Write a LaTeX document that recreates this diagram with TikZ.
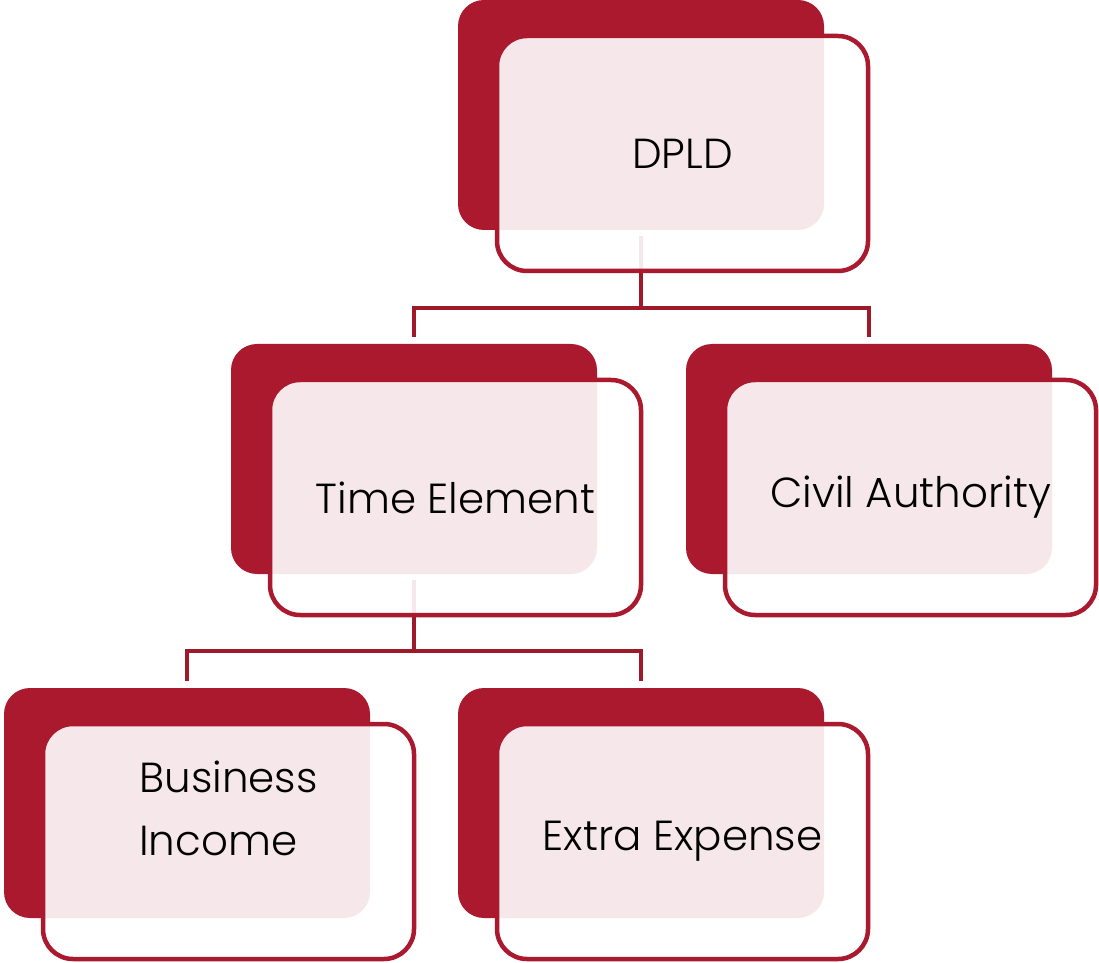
\documentclass[tikz,border=0pt]{standalone}
\usepackage{fontspec}
\setmainfont{Poppins}[UprightFont={* Light}]
\usetikzlibrary{positioning}
\definecolor{bannerred}{RGB}{170,25,45}
\definecolor{linkred}{RGB}{158,25,42}

\tikzset{
  backbox/.style={fill=bannerred, rounded corners=26pt, minimum width=366pt, minimum height=230pt, inner sep=0pt, outer sep=0pt},
  frontbox/.style={draw=bannerred, line width=4.5pt, fill=white, fill opacity=0.9, rounded corners=30pt, minimum width=371pt, minimum height=235pt, inner sep=0pt},
  boxtext/.style={font=\fontsize{42}{63}\selectfont, align=left, inner sep=0pt},
  link/.style={draw=linkred, line width=4.5pt},
}

\begin{document}
\begin{tikzpicture}[x=1pt,y=1pt]
  \useasboundingbox (0,0) rectangle (1099,962);

  % solid cards behind
  \node[backbox] (dpld-back) at (641,847) {};
  \node[backbox] (time-back) at (414,503) {};
  \node[backbox] (civil-back) at (869,503) {};
  \node[backbox] (business-back) at (187,159) {};
  \node[backbox] (extra-back) at (641,159) {};

  % tree links
  \draw[link] ([yshift=-6pt]dpld-back.south) -- ++(0,-72) -| ([yshift=7pt]time-back.north);
  \draw[link] ([yshift=-6pt]dpld-back.south) -- ++(0,-72) -| ([yshift=7pt]civil-back.north);
  \draw[link] ([yshift=-6pt]time-back.south) -- ++(0,-71) -| ([yshift=7pt]business-back.north);
  \draw[link] ([yshift=-6pt]time-back.south) -- ++(0,-71) -| ([yshift=7pt]extra-back.north);

  % outlined cards in front
  \node[frontbox] (dpld-front) at ([xshift=41.5pt,yshift=-38.5pt]dpld-back.center) {};
  \node[frontbox] (time-front) at ([xshift=41.5pt,yshift=-38.5pt]time-back.center) {};
  \node[frontbox] (civil-front) at ([xshift=41.5pt,yshift=-38.5pt]civil-back.center) {};
  \node[frontbox] (business-front) at ([xshift=41.5pt,yshift=-38.5pt]business-back.center) {};
  \node[frontbox] (extra-front) at ([xshift=41.5pt,yshift=-38.5pt]extra-back.center) {};

  \node[boxtext] (dpld-text) at (dpld-front) {DPLD};
  \node[boxtext] (time-text) at (time-front) {Time Element};
  \node[boxtext] (civil-text) at (civil-front) {Civil Authority};
  \node[boxtext] (business-text) at ([yshift=33pt]business-front) {Business\\Income};
  \node[boxtext] (extra-text) at (extra-front) {Extra Expense};
\end{tikzpicture}
\end{document}
